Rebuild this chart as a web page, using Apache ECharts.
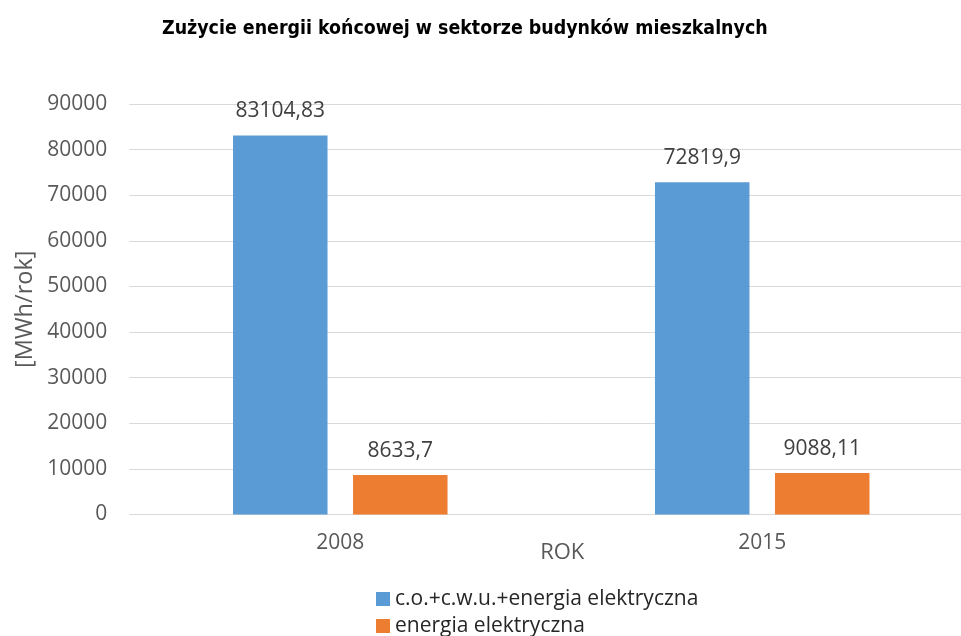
<!DOCTYPE html>
<html><head><meta charset="utf-8">
<script src="https://cdn.jsdelivr.net/npm/echarts@6/dist/echarts.min.js"></script>
<style>html,body{margin:0;padding:0;background:#fff;overflow:hidden}#c{width:961px;height:636px}</style>
</head><body><div id="c"></div>
<script>
const titleText = 'Zużycie energii końcowej w sektorze budynków mieszkalnych';
const categories = ['2008', '2015'];
const seriesNames = ['c.o.+c.w.u.+energia elektryczna', 'energia elektryczna'];
const valuesTotal = [83104.83, 72819.9];
const valuesElectric = [8633.7, 9088.11];
const yTicks = [0, 10000, 20000, 30000, 40000, 50000, 60000, 70000, 80000, 90000];
const yName = '[MWh/rok]';
const xName = 'ROK';

const narrow = "'DejaVu Sans Condensed','Liberation Sans Narrow','Open Sans',sans-serif";
const wide = "'Open Sans',sans-serif";
const fmt = v => String(v).replace('.', ',');

const chart = echarts.init(document.getElementById('c'), null, {renderer: 'canvas'});
const gTop = 104, gBottom = 636 - 514.5;
const labelStyle = {show: true, position: 'top', distance: 14, formatter: p => fmt(p.value),
  fontFamily: wide, fontSize: 21, color: '#404040'};
chart.setOption({
  animation: false,
  title: {text: titleText, left: 157, top: 14,
    textStyle: {fontFamily: narrow, fontWeight: 'bold', fontSize: 19.4, color: '#000'}},
  legend: {orient: 'vertical', left: 371, top: 583.5, height: 70, itemWidth: 14, itemHeight: 14, itemGap: 6,
    icon: 'rect', data: seriesNames,
    textStyle: {fontFamily: wide, fontSize: 21, color: '#262626'}},
  grid: [
    {left: 129.3, width: 831.7, top: gTop, bottom: gBottom, outerBoundsMode: 'none', containLabel: false},
    {left: 129.3, width: 843.9, top: gTop, bottom: gBottom, outerBoundsMode: 'none', containLabel: false}
  ],
  xAxis: [
    {type: 'value', gridIndex: 0, min: 0, max: 1, show: false},
    {type: 'category', gridIndex: 1, data: categories,
      axisLine: {show: false}, axisTick: {show: false},
      axisLabel: {margin: 18, fontFamily: wide, fontSize: 21, color: '#595959'},
      name: xName, nameLocation: 'middle', nameGap: 27, nameMoveOverlap: false,
      nameTextStyle: {fontFamily: wide, fontSize: 22, color: '#595959', padding: [0, 0, 0, 22]}}
  ],
  yAxis: [
    {type: 'value', gridIndex: 0, min: 0, max: 90000, interval: 10000,
      axisLine: {show: false}, axisTick: {show: false},
      splitLine: {lineStyle: {color: '#d9d9d9', width: 1}},
      axisLabel: {margin: 22, fontFamily: wide, fontSize: 21, color: '#595959',
        customValues: yTicks, formatter: v => String(v)},
      name: yName, nameLocation: 'middle', nameGap: 92, nameRotate: 90, nameMoveOverlap: false,
      nameTextStyle: {fontFamily: wide, fontSize: 23.5, color: '#595959'}},
    {type: 'value', gridIndex: 1, min: 0, max: 90000, interval: 10000, show: false}
  ],
  series: [
    {name: seriesNames[0], type: 'bar', xAxisIndex: 1, yAxisIndex: 1, data: valuesTotal,
      barWidth: 94.5, barGap: '27%', itemStyle: {color: '#5B9BD5'}, label: labelStyle},
    {name: seriesNames[1], type: 'bar', xAxisIndex: 1, yAxisIndex: 1, data: valuesElectric,
      barWidth: 94.5, barGap: '27%', itemStyle: {color: '#ED7D31'}, label: labelStyle}
  ]
});
</script></body></html>
